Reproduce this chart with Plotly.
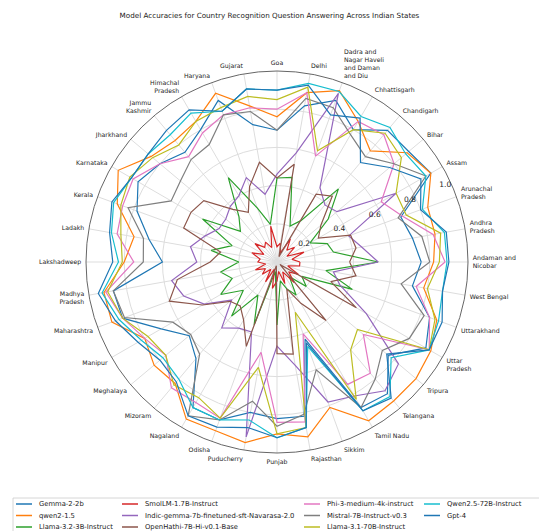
import plotly.graph_objects as go

states = [
    "Andaman and Nicobar", "Andhra Pradesh", "Arunachal Pradesh", "Assam", "Bihar",
    "Chandigarh", "Chhattisgarh", "Dadra and Nagar Haveli and Daman and Diu", "Delhi",
    "Goa", "Gujarat", "Haryana", "Himachal Pradesh", "Jammu Kashmir", "Jharkhand",
    "Karnataka", "Kerala", "Ladakh", "Lakshadweep", "Madhya Pradesh", "Maharashtra",
    "Manipur", "Meghalaya", "Mizoram", "Nagaland", "Odisha", "Puducherry", "Punjab",
    "Rajasthan", "Sikkim", "Tamil Nadu", "Telangana", "Tripura", "Uttar Pradesh",
    "Uttarakhand", "West Bengal",
]
state_labels = [
    "Andaman and<br>Nicobar", "Andhra<br>Pradesh", "Arunachal<br>Pradesh", "Assam", "Bihar",
    "Chandigarh", "Chhattisgarh", "Dadra and<br>Nagar Haveli<br>and Daman<br>and Diu", "Delhi",
    "Goa", "Gujarat", "Haryana", "Himachal<br>Pradesh", "Jammu<br>Kashmir", "Jharkhand",
    "Karnataka", "Kerala", "Ladakh", "Lakshadweep", "Madhya<br>Pradesh", "Maharashtra",
    "Manipur", "Meghalaya", "Mizoram", "Nagaland", "Odisha", "Puducherry", "Punjab",
    "Rajasthan", "Sikkim", "Tamil Nadu", "Telangana", "Tripura", "Uttar<br>Pradesh",
    "Uttarakhand", "West Bengal",
]

radial_ticks = [0.2, 0.4, 0.6, 0.8, 1.0]
radial_tick_text = ["0.2", "0.4", "0.6", "0.8", "1.0"]

gemma_2_2b = [0.755, 0.72, 0.69, 0.93, 0.90, 0.90, 0.80, 0.90, 0.83, 0.69, 0.73, 0.90,
              0.80, 0.75, 0.80, 0.84, 0.78, 0.68, 0.60, 0.87, 0.86, 0.70, 0.60, 0.66,
              0.88, 0.88, 0.80, 0.82, 0.82, 0.43, 0.88, 0.90, 0.76, 0.90, 0.85, 0.72]
qwen2_1_5 = [0.82, 0.84, 0.84, 0.93, 0.89, 0.76, 0.85, 0.955, 0.90, 0.76, 0.83, 0.94,
             0.85, 0.83, 0.86, 0.96, 0.89, 0.76, 0.80, 0.92, 0.92, 0.80, 0.84, 0.83,
             0.95, 0.94, 0.96, 0.90, 0.93, 0.81, 0.96, 0.95, 0.95, 0.93, 0.89, 0.78]
llama_3_2_3b = [0.53, 0.30, 0.28, 0.20, 0.35, 0.50, 0.25, 0.20, 0.45, 0.44, 0.20, 0.30,
                0.51, 0.31, 0.25, 0.45, 0.25, 0.35, 0.20, 0.30, 0.25, 0.34, 0.23, 0.37,
                0.20, 0.35, 0.05, 0.33, 0.10, 0.15, 0.20, 0.10, 0.20, 0.15, 0.42, 0.26]
smollm_1_7b = [0.12, 0.08, 0.15, 0.06, 0.12, 0.08, 0.14, 0.05, 0.10, 0.08, 0.19, 0.08,
               0.12, 0.10, 0.15, 0.08, 0.14, 0.09, 0.10, 0.06, 0.12, 0.07, 0.10, 0.05,
               0.12, 0.04, 0.14, 0.10, 0.05, 0.12, 0.06, 0.14, 0.08, 0.13, 0.06, 0.12]
indic_gemma_7b = [0.53, 0.45, 0.40, 0.72, 0.41, 0.39, 0.45, 0.94, 0.58, 0.46, 0.36, 0.47,
                  0.40, 0.38, 0.35, 0.35, 0.40, 0.46, 0.42, 0.56, 0.52, 0.44, 0.31, 0.45,
                  0.40, 0.39, 0.93, 0.44, 0.55, 0.78, 0.81, 0.88, 0.83, 0.54, 0.35, 0.30]
openhathi_7b = [0.38, 0.42, 0.41, 0.25, 0.30, 0.45, 0.41, 0.03, 0.52, 0.44, 0.53, 0.42,
                0.30, 0.36, 0.50, 0.52, 0.52, 0.30, 0.35, 0.53, 0.60, 0.45, 0.32, 0.30,
                0.35, 0.47, 0.02, 0.48, 0.49, 0.15, 0.25, 0.40, 0.02, 0.48, 0.30, 0.42]
phi_3_medium = [0.88, 0.83, 0.70, 0.63, 0.80, 0.87, 0.85, 0.59, 0.90, 0.80, 0.82, 0.82,
                0.78, 0.72, 0.80, 0.87, 0.86, 0.85, 0.75, 0.91, 0.86, 0.80, 0.76, 0.86,
                0.85, 0.87, 0.48, 0.84, 0.85, 0.40, 0.74, 0.76, 0.59, 0.92, 0.85, 0.74]
mistral_7b = [0.80, 0.77, 0.675, 0.90, 0.80, 0.72, 0.77, 0.86, 0.87, 0.69, 0.80, 0.82,
              0.71, 0.70, 0.66, 0.64, 0.83, 0.71, 0.70, 0.87, 0.85, 0.63, 0.59, 0.63,
              0.93, 0.88, 0.74, 0.86, 0.81, 0.60, 0.88, 0.80, 0.72, 0.80, 0.82, 0.66]
llama_3_1_70b = [0.85, 0.87, 0.72, 0.72, 0.85, 0.88, 0.80, 0.62, 0.93, 0.85, 0.88, 0.86,
                 0.85, 0.80, 0.85, 0.89, 0.87, 0.83, 0.81, 0.90, 0.86, 0.78, 0.76, 0.84,
                 0.82, 0.87, 0.56, 0.90, 0.88, 0.28, 0.83, 0.60, 0.55, 0.92, 0.88, 0.80]
qwen2_5_72b = [0.89, 0.89, 0.81, 0.90, 0.88, 0.92, 0.88, 0.95, 0.95, 0.90, 0.92, 0.84,
               0.90, 0.87, 0.88, 0.88, 0.91, 0.88, 0.83, 0.93, 0.88, 0.82, 0.78, 0.80,
               0.88, 0.88, 0.84, 0.92, 0.88, 0.47, 0.90, 0.92, 0.78, 0.92, 0.90, 0.88]
gpt_4 = [0.90, 0.90, 0.80, 0.87, 0.77, 0.68, 0.87, 0.82, 0.94, 0.90, 0.92, 0.84,
         0.92, 0.90, 0.88, 0.88, 0.92, 0.89, 0.86, 0.95, 0.90, 0.84, 0.80, 0.82,
         0.93, 0.92, 0.88, 0.92, 0.88, 0.45, 0.90, 0.93, 0.75, 0.92, 0.92, 0.88]

model_names = [
    "Gemma-2-2b", "qwen2-1.5", "Llama-3.2-3B-Instruct", "SmolLM-1.7B-Instruct",
    "Indic-gemma-7b-finetuned-sft-Navarasa-2.0", "OpenHathi-7B-Hi-v0.1-Base",
    "Phi-3-medium-4k-instruct", "Mistral-7B-Instruct-v0.3", "Llama-3.1-70B-Instruct",
    "Qwen2.5-72B-Instruct", "Gpt-4",
]
model_scores = [
    gemma_2_2b, qwen2_1_5, llama_3_2_3b, smollm_1_7b, indic_gemma_7b, openhathi_7b,
    phi_3_medium, mistral_7b, llama_3_1_70b, qwen2_5_72b, gpt_4,
]
model_colors = [
    "#1f77b4", "#ff7f0e", "#2ca02c", "#d62728", "#9467bd", "#8c564b",
    "#e377c2", "#7f7f7f", "#bcbd22", "#17becf", "#1f77b4",
]

W, H = 539, 531
FONT = "DejaVu Sans"

fig = go.Figure()
for name, vals, color in zip(model_names, model_scores, model_colors):
    fig.add_trace(go.Scatterpolar(
        r=vals + vals[:1],
        theta=states + states[:1],
        mode="lines",
        name=name,
        line=dict(color=color, width=1.2),
        showlegend=False,
    ))

# polar area: circle centred at (277, 262) px, radius 191 px
cx, cy, rad = 277, 262, 191
dom_x = [(cx - rad) / W, (cx + rad) / W]
dom_y = [(H - cy - rad) / H, (H - cy + rad) / H]

fig.update_layout(
    width=W, height=H,
    margin=dict(l=0, r=0, t=0, b=0),
    paper_bgcolor="white",
    font=dict(family=FONT, size=7, color="#222"),
    title=dict(
        text="Model Accuracies for Country Recognition Question Answering Across Indian States",
        x=0.5, xanchor="center", y=1 - 15 / H, yanchor="middle",
        font=dict(family=FONT, size=7.2, color="#222"),
    ),
    polar=dict(
        domain=dict(x=dom_x, y=dom_y),
        bgcolor="white",
        angularaxis=dict(
            type="category",
            categoryorder="array",
            categoryarray=states,
            direction="counterclockwise",
            rotation=0,
            tickmode="array",
            tickvals=states,
            ticktext=state_labels,
            tickfont=dict(family=FONT, size=6.2, color="#222"),
            showline=True,
            linecolor="#666",
            linewidth=1,
            gridcolor="#dddddd",
            gridwidth=0.8,
            ticks="outside",
            ticklen=3,
            tickcolor="rgba(0,0,0,0)",
        ),
        radialaxis=dict(
            range=[0, 1.0],
            tickmode="array",
            tickvals=radial_ticks,
            ticktext=radial_tick_text,
            angle=22.5,
            tickangle=22.5,
            side="counterclockwise",
            showline=False,
            ticks="",
            gridcolor="#dddddd",
            gridwidth=0.8,
            tickfont=dict(family=FONT, size=7.5, color="#222"),
        ),
    ),
)

# legend block: four columns of three entries, filled column by column
col_text_x = [37, 143, 325, 445]
row_y = [504, 515.5, 527]
for i, (name, color) in enumerate(zip(model_names, model_colors)):
    col, row = divmod(i, 3)
    tx = col_text_x[col]
    yy = (H - row_y[row]) / H
    fig.add_shape(
        type="line", xref="paper", yref="paper",
        x0=(tx - 21) / W, x1=(tx - 5) / W, y0=yy, y1=yy,
        line=dict(color=color, width=1.5),
    )
    fig.add_annotation(
        text=name, xref="paper", yref="paper", x=tx / W, y=yy,
        xanchor="left", yanchor="middle", showarrow=False,
        font=dict(family=FONT, size=6.8, color="#222"),
    )

fig.add_shape(
    type="rect", xref="paper", yref="paper",
    x0=13 / W, x1=545 / W, y0=-0.02, y1=(H - 498) / H,
    line=dict(color="#cccccc", width=0.8), fillcolor="rgba(0,0,0,0)",
)

fig.write_html("out.html")
